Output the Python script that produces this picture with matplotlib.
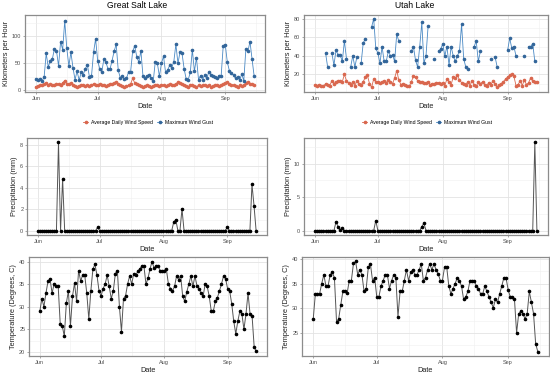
import numpy as np
import pandas as pd
import matplotlib
matplotlib.use('Agg')
import matplotlib.pyplot as plt
import matplotlib.dates as mdates
from matplotlib.ticker import MultipleLocator

plt.rcParams['font.family'] = ['Liberation Sans', 'DejaVu Sans']

# daily records, Jun 1 - Sep 15
dates = pd.date_range('2019-06-01', periods=107)
nan = np.nan

# Great Salt Lake
gsl_avg_wind = [7, 8, 9, 10, 11, 14, 10, 11, 9, 10,
                11, 12, 10, 14, 18, 12, 11, 13, 9, 8,
                7, 8, 9, 10, 8, 9, 8, 10, 12, 10,
                9, 11, 10, 9, 8, 10, 12, 11, 13, 15,
                11, 9, 8, 7, 8, 9, 12, 22, 14, 11,
                9, 8, 7, 8, 9, 8, 7, 8, 10, 9,
                8, 9, 10, 8, 9, 11, 10, 9, 12, 15,
                14, 11, 9, 8, 7, 9, 10, 8, 7, 9,
                8, 9, 10, 8, 9, 7, 8, 9, 10, 8,
                9, 11, 14, 15, 12, 10, 9, 8, 7, 9,
                8, 10, 13, 15, 12, 11, 9]
gsl_max_gust = [21, 20, 21, 17, 25, 68, 43, 55, 58, 77,
                73, 45, 90, 75, 128, 78, 45, 70, 42, 20,
                35, 19, 33, 29, 40, 47, 25, 26, 70, 95,
                55, 40, 34, 57, 52, 40, 39, 55, 72, 85,
                37, 23, 26, 21, 22, 34, 34, 72, 82, 62,
                52, 73, 27, 22, 27, 29, 22, 17, 53, 50,
                26, 50, 63, 33, 38, 46, 42, 53, 85, 50,
                70, 68, 40, 21, 20, 33, 75, 35, 60, 20,
                27, 20, 28, 22, 34, 28, 26, 25, 22, 27,
                27, 82, 84, 52, 36, 32, 28, 22, 24, 19,
                30, 18, 76, 72, 90, 58, 27]
gsl_precip = [0] * 107
for d, v in [(10, 8.2), (12, 4.8), (29, 0.3), (66, 0.8), (67, 1.0),
             (70, 2.0), (92, 0.3), (104, 4.3), (105, 2.3)]:
    gsl_precip[d] = v
gsl_temp = [29, 31.8, 30, 33, 35.6, 36.2, 33, 35, 34.5, 34.5,
            26.2, 25.7, 23.5, 30.8, 33.5, 25.7, 32.3, 35.2, 31.2, 38,
            35.7, 37, 37, 33, 27.3, 33.5, 38.3, 39.4, 37, 33.5,
            32.4, 34, 35, 37, 34.5, 31.8, 33.5, 37.3, 38, 30,
            24.5, 31.8, 32.4, 35, 36.8, 35, 37.3, 37, 37.8, 38.4,
            39, 39, 35, 36.3, 38.4, 40, 38.5, 39, 39, 37.9,
            37.9, 37.9, 38.3, 35, 34, 33.5, 34.5, 36.8, 36, 36.8,
            32.3, 31.2, 33.3, 35, 36.8, 34.5, 36.8, 34.6, 34, 33,
            32.3, 35, 34.5, 32.3, 29, 29, 31.2, 32, 33.5, 35,
            36.8, 36.2, 34, 33.5, 30.7, 26.8, 24, 26.8, 29, 28.4,
            25, 28.4, 33, 28.4, 27.9, 21.2, 20.1]

# Utah Lake
utah_avg_wind = [9, 8, 9, 8, 7, 10, 9, 8, 13, 10,
                 12, 13, 13, 12, 20, 13, 11, 9, 12, 8,
                 13, 10, 9, 12, 17, 19, 10, 6, 15, 12,
                 12, 11, 12, 13, 11, 14, 12, 10, 16, 24,
                 14, 9, 10, 9, 8, 7, 12, 18, 17, 13,
                 12, 12, 11, 11, 12, 9, 10, 10, 11, 11,
                 10, 11, 8, 15, 12, 9, 17, 16, 19, 14,
                 11, 10, 9, 12, 8, 13, 9, 7, 12, 10,
                 12, 9, 8, 11, 9, 13, 10, 6, 9, 10,
                 12, 15, 17, 19, 20, 18, 8, 9, 13, 8,
                 14, 9, 11, 16, 13, 12, 12]
utah_max_gust = [nan, nan, nan, nan, nan, 43, 28, nan, 43, 30,
                 46, 41, 41, 34, 56, 37, nan, 28, 40, 28,
                 39, nan, 32, 54, 58, nan, nan, 71, 80, 48,
                 43, 32, 50, 34, 34, 45, 40, 41, 34, 63,
                 56, nan, nan, nan, nan, nan, 45, 50, 35, 28,
                 50, 76, 32, 40, 72, nan, nan, 37, nan, 45,
                 47, 53, 40, 50, 30, 50, 40, 34, 40, 45,
                 74, 37, 28, 26, nan, nan, 50, 56, 34, 45,
                 nan, nan, nan, nan, 37, nan, 39, 28, nan, nan,
                 nan, nan, 46, 59, 48, 50, 40, nan, nan, nan,
                 40, nan, 50, 50, 53, 34, nan]
utah_precip = [0] * 107
for d, v in [(10, 1.3), (11, 0.6), (12, 0.1), (13, 0.4), (29, 1.5),
             (51, 0.6), (52, 1.1), (105, 13.2)]:
    utah_precip[d] = v
utah_temp = [27.8, 32.9, 32.9, 32.9, 35, 36.8, 34.5, 34.5, 36.8, 37.3,
             36.2, 27.3, 27.8, 30.7, 33.4, 33.4, 33, 35.6, 35.6, 39.1,
             39.5, 36.8, 37.8, 36.8, 33.4, 34, 38.3, 39, 35.6, 36.2,
             32.3, 32.3, 34.5, 35.6, 36.8, 36.8, 34, 35.6, 36.8, 36.2,
             28.3, 33.4, 33.4, 35.6, 37.8, 35.6, 37.3, 37.8, 36.8, 36.8,
             37.8, 39, 35.6, 36.2, 37.8, 39, 37.8, 39, 37.8, 37,
             35.6, 35.6, 38.4, 38.4, 34.5, 32.9, 34, 35, 36.2, 35.6,
             34.5, 31.8, 32.3, 33.4, 35.6, 35.6, 35.6, 34.5, 34, 32.9,
             32.9, 34.5, 33.4, 32.3, 31.2, 30.1, 31.8, 31.2, 32.9, 34.5,
             36.2, 36.2, 33.8, 32.3, 32.3, 31.8, 25, 28.9, 29.4, 28.9,
             27.8, 28.9, 33.4, 31.2, 28.9, 22.8, 21.2]

AVG_COL = '#d9674e'
GUST_COL = '#4a89c4'

fig = plt.figure(figsize=(5.5, 3.76), dpi=100)


def box(x0, y0, x1, y1):
    return [x0 / 550, 1 - y1 / 376, (x1 - x0) / 550, (y1 - y0) / 376]


def style(ax, ylim, ystep, ylabel):
    pad = pd.Timedelta(days=5.3)
    ax.set_xlim(dates[0] - pad, dates[-1] + pad)
    ax.set_ylim(*ylim)
    ax.xaxis.set_major_locator(mdates.MonthLocator())
    ax.xaxis.set_major_formatter(mdates.DateFormatter('%b'))
    ax.xaxis.set_minor_locator(mdates.MonthLocator(bymonthday=16))
    ax.yaxis.set_major_locator(MultipleLocator(ystep))
    ax.yaxis.set_minor_locator(MultipleLocator(ystep / 2))
    ax.grid(which='major', color='#e3e3e3', lw=0.6)
    ax.grid(which='minor', color='#efefef', lw=0.4)
    ax.set_axisbelow(True)
    for s in ax.spines.values():
        s.set_color('#8c8c8c')
        s.set_linewidth(0.9)
    ax.tick_params(which='major', length=1.5, width=0.4, color='#666666',
                   labelsize=4.0, labelcolor='#4d4d4d', pad=1.2)
    ax.tick_params(which='minor', length=0)
    ax.set_xlabel('Date', fontsize=5.3, labelpad=1.5, color='#222222')
    ax.set_ylabel(ylabel, fontsize=5.3, labelpad=1.5, color='#222222')


def wind(ax, avg, gust, ylim, ystep, legx):
    l1, = ax.plot(dates, avg, color=AVG_COL, lw=0.6, marker='o', ms=1.6,
                  mec=AVG_COL, mfc=AVG_COL, label='Average Daily Wind Speed')
    l2, = ax.plot(dates, gust, color=GUST_COL, lw=0.6, marker='o', ms=1.6,
                  mec='#33669a', mfc='#33669a', label='Maximum Wind Gust')
    style(ax, ylim, ystep, 'Kilometers per Hour')
    fig.legend(handles=[l1, l2], loc='center', ncol=2, frameon=False,
               bbox_to_anchor=(legx / 550, 1 - 122 / 376), fontsize=3.7,
               handlelength=1.0, handletextpad=0.5, columnspacing=0.8)


def black(ax, vals, ylim, ystep, ylabel):
    ax.plot(dates, vals, color='#555555', lw=0.7, marker='o', ms=1.6,
            mec='black', mfc='black')
    style(ax, ylim, ystep, ylabel)


ax = fig.add_axes(box(25, 15, 265, 92))
wind(ax, gsl_avg_wind, gsl_max_gust, (-3, 139), 50, 148)
ax = fig.add_axes(box(304, 15, 548, 92))
wind(ax, utah_avg_wind, utah_max_gust, (1, 84), 20, 427)

ax = fig.add_axes(box(27, 138, 267, 235))
black(ax, gsl_precip, (-0.41, 8.61), 2, 'Precipitation (mm)')
ax = fig.add_axes(box(304, 138, 548, 235))
black(ax, utah_precip, (-0.66, 13.86), 5, 'Precipitation (mm)')

ax = fig.add_axes(box(29, 257, 267, 356))
black(ax, gsl_temp, (19.1, 41), 5, 'Temperature (Degrees, C)')
ax = fig.add_axes(box(302, 257, 549, 356))
black(ax, utah_temp, (20.3, 40.4), 5, 'Temperature (Degrees, C)')

fig.text(137 / 550, 1 - 6 / 376, 'Great Salt Lake', fontsize=6.2,
         ha='center', va='center')
fig.text(415 / 550, 1 - 6 / 376, 'Utah Lake', fontsize=6.2,
         ha='center', va='center')

fig.savefig('out.png', dpi=100)
